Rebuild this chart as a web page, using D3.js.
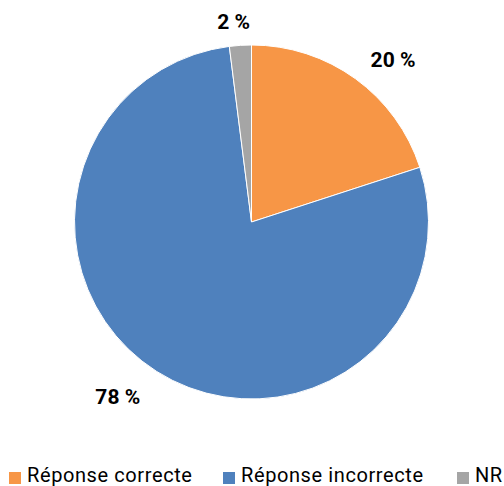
<!DOCTYPE html>
<html>
<head>
<meta charset="utf-8">
<script src="https://cdn.jsdelivr.net/npm/d3@7"></script>
<style>
  html, body { margin: 0; padding: 0; background: #fff; overflow: hidden; }
  svg { display: block; }
</style>
</head>
<body>
<svg id="chart" width="504" height="486"></svg>
<script>
// Répartition des réponses
const categories = ["Réponse correcte", "Réponse incorrecte", "NR"];
const values = [20, 78, 2];
const valueLabels = ["20 %", "78 %", "2 %"];
const colors = ["#F79646", "#4F81BD", "#A5A5A5"];

const svg = d3.select("#chart");
const cx = 251.5, cy = 222, r = 177;

const pie = d3.pie().sort(null).value(d => d)(values);
const arc = d3.arc().innerRadius(0).outerRadius(r);

const g = svg.append("g").attr("transform", `translate(${cx},${cy})`);
g.selectAll("path")
  .data(pie)
  .join("path")
  .attr("d", arc)
  .attr("fill", (d, i) => colors[i])
  .attr("stroke", "#fff")
  .attr("stroke-width", 1);

// Étiquettes de valeur à l'extérieur du disque, avec un léger décalage par part
const labelArc = d3.arc().innerRadius(r * 1.12).outerRadius(r * 1.12);
const labelShift = [[25, -2], [-27.5, 8], [-5.5, -2.5]];
g.selectAll("text.val")
  .data(pie)
  .join("text")
  .attr("class", "val")
  .attr("x", (d, i) => labelArc.centroid(d)[0] + labelShift[i][0])
  .attr("y", (d, i) => labelArc.centroid(d)[1] + labelShift[i][1])
  .attr("text-anchor", "middle")
  .attr("dominant-baseline", "central")
  .attr("font-family", "Roboto, 'Liberation Sans', sans-serif")
  .attr("font-weight", "bold")
  .attr("font-size", 21)
  .attr("fill", "#000")
  .text((d, i) => valueLabels[i]);

// Légende
const legendX = [9, 223, 457];
const legend = svg.append("g");
categories.forEach((c, i) => {
  legend.append("rect")
    .attr("x", legendX[i]).attr("y", 472)
    .attr("width", 12).attr("height", 12)
    .attr("fill", colors[i]);
  legend.append("text")
    .attr("x", legendX[i] + 18).attr("y", 481.5)
    .attr("font-family", "Roboto, 'Liberation Sans', sans-serif")
    .attr("font-size", 20)
    .attr("letter-spacing", 0.6)
    .attr("fill", "#000")
    .text(c);
});
</script>
</body>
</html>
